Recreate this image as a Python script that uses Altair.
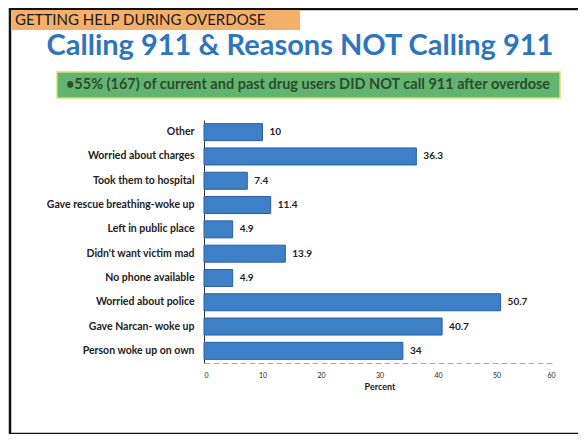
import altair as alt
import pandas as pd

reasons = [
    "Other",
    "Worried about charges",
    "Took them to hospital",
    "Gave rescue breathing-woke up",
    "Left in public place",
    "Didn't want victim mad",
    "No phone available",
    "Worried about police",
    "Gave Narcan- woke up",
    "Person woke up on own",
]
percents = [10, 36.3, 7.4, 11.4, 4.9, 13.9, 4.9, 50.7, 40.7, 34]
value_labels = ["10", "36.3", "7.4", "11.4", "4.9", "13.9", "4.9", "50.7", "40.7", "34"]
x_ticks = [0, 10, 20, 30, 40, 50, 60]

header_text = "GETTING HELP DURING OVERDOSE"
title_text = "Calling 911 & Reasons NOT Calling 911"
note_text = "\u202255% (167) of current and past drug users DID NOT call 911 after overdose"

df = pd.DataFrame({"reason": reasons, "pct": percents, "lab": value_labels})

W, H = 351, 243
FONT = "Lato"

base = alt.Chart(df)

bars = base.mark_bar(color="#3D80C8", stroke="#2B5E9E", strokeWidth=1).encode(
    y=alt.Y("reason:N", sort=reasons, title=None,
            scale=alt.Scale(paddingInner=0.3, paddingOuter=0.15),
            axis=alt.Axis(ticks=False, domainColor="#333333", domainWidth=1,
                          labelFont=FONT, labelFontSize=10.5, labelFontWeight="bold",
                          labelColor="#222222", labelPadding=10)),
    x=alt.X("pct:Q", title="Percent",
            scale=alt.Scale(domain=[0, 60]),
            axis=alt.Axis(values=x_ticks, ticks=False, domain=True,
                          domainColor="#aaaaaa", domainDash=[6, 3], domainWidth=1,
                          grid=False, labelFont=FONT, labelFontSize=7,
                          labelColor="#222222", labelPadding=8,
                          titleFont=FONT, titleFontSize=9, titleFontWeight="bold",
                          titleColor="#222222", titlePadding=4)),
)

labels = base.mark_text(align="left", baseline="middle", dx=7, font=FONT,
                        fontSize=10, fontWeight="bold", color="#222222").encode(
    y=alt.Y("reason:N", sort=reasons),
    x="pct:Q",
    text="lab:N",
)

# Decorations (positions relative to plot origin)
one = pd.DataFrame({"a": [0]})
frame_left = alt.Chart(one).mark_rule(color="#111111", strokeWidth=2.5).encode(
    x=alt.value(-194), y=alt.value(-112), y2=alt.value(314))
frame_top = alt.Chart(one).mark_rule(color="#111111", strokeWidth=2.5).encode(
    x=alt.value(-194), x2=alt.value(380), y=alt.value(-111))
frame_bottom = alt.Chart(one).mark_rule(color="#111111", strokeWidth=2.5).encode(
    x=alt.value(-194), x2=alt.value(380), y=alt.value(314))

orange = alt.Chart(one).mark_rect(color="#F4B06A").encode(
    x=alt.value(-192), x2=alt.value(96), y=alt.value(-110), y2=alt.value(-90))
orange_text = alt.Chart(pd.DataFrame({"t": [header_text]})).mark_text(
    align="left", baseline="middle", font=FONT, fontSize=15, color="#1a1a1a").encode(
    x=alt.value(-189), y=alt.value(-100), text="t:N")

title = alt.Chart(pd.DataFrame({"t": [title_text]})).mark_text(
    align="center", baseline="middle", font=FONT, fontSize=29, fontWeight="bold",
    color="#2F75BC").encode(x=alt.value(96), y=alt.value(-74), text="t:N")

green = alt.Chart(one).mark_rect(color="#62B56F", stroke="#D8E070", strokeWidth=1.5).encode(
    x=alt.value(-147), x2=alt.value(356), y=alt.value(-48), y2=alt.value(-22))
green_text = alt.Chart(pd.DataFrame({"t": [note_text]})).mark_text(
    align="center", baseline="middle", font=FONT, fontSize=14.5, fontWeight="bold",
    color="#2E4B30").encode(x=alt.value(104), y=alt.value(-35), text="t:N")

chart = alt.layer(
    frame_left, frame_top, frame_bottom, orange, orange_text, title, green, green_text,
    bars, labels
).properties(
    width=W, height=H,
    autosize=alt.AutoSizeParams(type="none"),
    padding={"left": 196, "top": 112, "right": 23, "bottom": 71},
    background="white",
).configure_view(stroke=None)

chart.save("out.html", embed_options={"renderer": "svg", "actions": False})
